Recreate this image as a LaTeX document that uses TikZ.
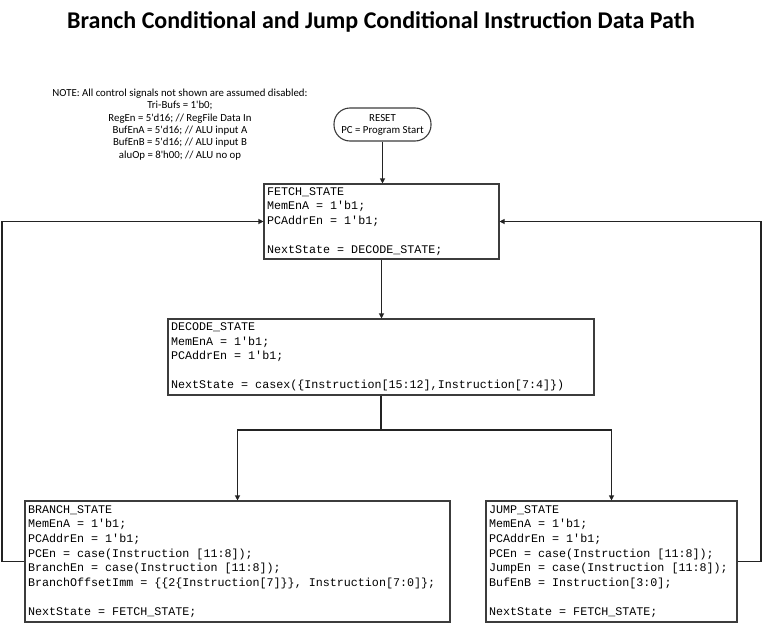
\documentclass[tikz,border=0pt]{standalone}
\usepackage{fontspec}
\setmainfont{Carlito}
\setmonofont{Liberation Mono}
\usetikzlibrary{arrows.meta,positioning}
\definecolor{dpLine}{RGB}{35,35,35}
\definecolor{dpBox}{RGB}{60,60,60}
\newcommand{\codefont}{\ttfamily\fontsize{11.7}{14.6}\selectfont}
\newcommand{\codespace}{\spaceskip=7.02pt\relax\xspaceskip=7.02pt\relax}

\begin{document}
\begin{tikzpicture}[x=1pt,y=-1pt,
    stateBox/.style={draw=dpBox, line width=1.1pt, fill=white, inner xsep=3pt, inner ysep=0pt,
        align=left, font=\codefont, execute at begin node=\codespace},
    flow/.style={draw=dpLine, line width=1.1pt, -{Triangle[length=5pt,width=5pt]}},
    link/.style={draw=dpLine, line width=1.1pt}]
    \useasboundingbox (0,0) rectangle (763,626);

    % title and note
    \node (title) at (381,22) {\fontsize{24}{28}\selectfont\bfseries Branch Conditional and Jump Conditional Instruction Data Path};
    \node[align=center, font=\fontsize{10.8}{12.4}\selectfont] (note) at (180,124.5)
        {NOTE: All control signals not shown are assumed disabled:\\
         Tri-Bufs = 1\textquotesingle b0;\\
         RegEn = 5\textquotesingle d16; // RegFile Data In\\
         BufEnA = 5\textquotesingle d16; // ALU input A\\
         BufEnB = 5\textquotesingle d16; // ALU input B\\
         aluOp = 8\textquotesingle h00; // ALU no op};

    % states
    \node[draw=dpBox, line width=1.1pt, rounded corners=16pt, minimum width=97pt, minimum height=33pt,
        inner sep=0pt, align=center, font=\fontsize{10.8}{12}\selectfont] (reset) at (382.5,124.5)
        {RESET\\PC = Program Start};
    \node[stateBox, text width=229pt, minimum height=75pt] (fetch) at (381.5,221.5)
        {FETCH\_STATE\\MemEnA = 1'b1;\\PCAddrEn = 1'b1;\\[14.6pt]NextState = DECODE\_STATE;};
    \node[stateBox, text width=420pt, minimum height=76pt] (decode) at (381,357)
        {DECODE\_STATE\\MemEnA = 1'b1;\\PCAddrEn = 1'b1;\\[14.6pt]NextState = casex(\{Instruction[15:12],Instruction[7:4]\})};
    \node[stateBox, text width=419pt, minimum height=121pt] (branch) at (237.5,561.5)
        {BRANCH\_STATE\\MemEnA = 1'b1;\\PCAddrEn = 1'b1;\\PCEn = case(Instruction [11:8]);\\BranchEn = case(Instruction [11:8]);\\BranchOffsetImm = \{\{2\{Instruction[7]\}\}, Instruction[7:0]\};\\[14.6pt]NextState = FETCH\_STATE;};
    \node[stateBox, text width=245pt, minimum height=121pt] (jump) at (611.5,561.5)
        {JUMP\_STATE\\MemEnA = 1'b1;\\PCAddrEn = 1'b1;\\PCEn = case(Instruction [11:8]);\\JumpEn = case(Instruction [11:8]);\\BufEnB = Instruction[3:0];\\[14.6pt]NextState = FETCH\_STATE;};

    % connectors
    \coordinate (split) at (381,430);
    \coordinate (loopL) at (2,400);
    \coordinate (loopR) at (761,400);
    \draw[flow] (reset.south) -- (reset.south |- fetch.north);
    \draw[flow] (fetch.south) -- (fetch.south |- decode.north);
    \draw[link] (decode.south) -- (split);
    \draw[flow] (split) -| (branch.north);
    \draw[flow] (split) -| (jump.north);
    \draw[flow] (branch.west) -| (loopL) |- (fetch.west);
    \draw[flow] (jump.east) -| (loopR) |- (fetch.east);
\end{tikzpicture}
\end{document}
